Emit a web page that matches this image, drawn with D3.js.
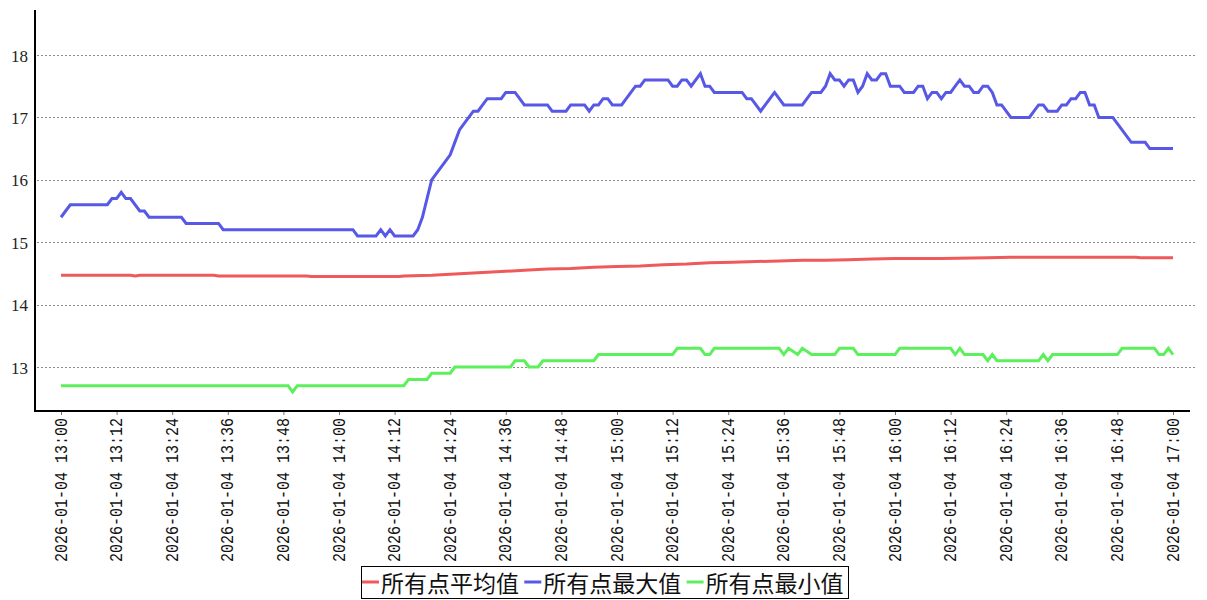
<!DOCTYPE html>
<html>
<head>
<meta charset="utf-8">
<script src="https://cdn.jsdelivr.net/npm/d3@7"></script>
<style>
  html, body { margin: 0; padding: 0; background: #fff; }
  svg { display: block; }
</style>
</head>
<body>
<svg id="chart" width="1207" height="600"></svg>
<script>
// ---------------- DATA ----------------
const dateLabel = "2026-01-04";
const startClock = "13:00";
const endClock = "17:00";
const xTickLabels = ["13:00","13:12","13:24","13:36","13:48","14:00","14:12","14:24","14:36","14:48",
  "15:00","15:12","15:24","15:36","15:48","16:00","16:12","16:24","16:36","16:48","17:00"];
const yTickValues = [13, 14, 15, 16, 17, 18];
const seriesNames = ["所有点平均值", "所有点最大值", "所有点最小值"];

// [minutes after 13:00, value]
const avgValues = [
  [0,14.47],[15,14.47],[16,14.46],[17,14.47],[33,14.47],[34,14.46],[53,14.46],[54,14.45],[73,14.45],
  [74,14.46],[80,14.47],[85,14.49],[90,14.51],[95,14.53],[100,14.55],[105,14.57],[110,14.58],
  [115,14.60],[120,14.61],[125,14.62],[130,14.64],[135,14.65],[140,14.67],[145,14.68],[150,14.69],
  [155,14.70],[160,14.71],[165,14.71],[170,14.72],[175,14.73],[180,14.74],[190,14.74],[200,14.75],
  [205,14.76],[232,14.76],[233,14.75],[240,14.75]
];
const maxValues = [
  [0,15.4],[1,15.5],[2,15.6],[10,15.6],[11,15.7],[12,15.7],[13,15.8],[14,15.7],[15,15.7],[17,15.5],
  [18,15.5],[19,15.4],[26,15.4],[27,15.3],[34,15.3],[35,15.2],[63,15.2],[64,15.1],[68,15.1],[69,15.2],
  [70,15.1],[71,15.2],[72,15.1],[76,15.1],[77,15.2],[78,15.4],[79,15.7],[80,16.0],[81,16.1],[82,16.2],
  [83,16.3],[84,16.4],[85,16.6],[86,16.8],[87,16.9],[88,17.0],[89,17.1],[90,17.1],[91,17.2],[92,17.3],
  [95,17.3],[96,17.4],[98,17.4],[99,17.3],[100,17.2],[105,17.2],[106,17.1],[109,17.1],[110,17.2],
  [113,17.2],[114,17.1],[115,17.2],[116,17.2],[117,17.3],[118,17.3],[119,17.2],[121,17.2],[122,17.3],
  [123,17.4],[124,17.5],[125,17.5],[126,17.6],[131,17.6],[132,17.5],[133,17.5],[134,17.6],[135,17.6],
  [136,17.5],[138,17.7],[139,17.5],[140,17.5],[141,17.4],[147,17.4],[148,17.3],[149,17.3],[150,17.2],
  [151,17.1],[152,17.2],[153,17.3],[154,17.4],[155,17.3],[156,17.2],[160,17.2],[161,17.3],[162,17.4],
  [164,17.4],[165,17.5],[166,17.7],[167,17.6],[168,17.6],[169,17.5],[170,17.6],[171,17.6],[172,17.4],
  [173,17.5],[174,17.7],[175,17.6],[176,17.6],[177,17.7],[178,17.7],[179,17.5],[181,17.5],[182,17.4],
  [184,17.4],[185,17.5],[186,17.5],[187,17.3],[188,17.4],[189,17.4],[190,17.3],[191,17.4],[192,17.4],
  [193,17.5],[194,17.6],[195,17.5],[196,17.5],[197,17.4],[198,17.4],[199,17.5],[200,17.5],[201,17.4],
  [202,17.2],[203,17.2],[204,17.1],[205,17.0],[209,17.0],[210,17.1],[211,17.2],[212,17.2],[213,17.1],
  [215,17.1],[216,17.2],[217,17.2],[218,17.3],[219,17.3],[220,17.4],[221,17.4],[222,17.2],[223,17.2],
  [224,17.0],[227,17.0],[228,16.9],[229,16.8],[230,16.7],[231,16.6],[234,16.6],[235,16.5],[240,16.5]
];
const minValues = [
  [0,12.7],[49,12.7],[50,12.6],[51,12.7],[74,12.7],[75,12.8],[79,12.8],[80,12.9],[84,12.9],[85,13.0],
  [97,13.0],[98,13.1],[100,13.1],[101,13.0],[103,13.0],[104,13.1],[115,13.1],[116,13.2],[132,13.2],
  [133,13.3],[138,13.3],[139,13.2],[140,13.2],[141,13.3],[155,13.3],[156,13.2],[157,13.3],[159,13.2],
  [160,13.3],[162,13.2],[167,13.2],[168,13.3],[171,13.3],[172,13.2],[180,13.2],[181,13.3],[192,13.3],
  [193,13.2],[194,13.3],[195,13.2],[199,13.2],[200,13.1],[201,13.2],[202,13.1],[211,13.1],[212,13.2],
  [213,13.1],[214,13.2],[228,13.2],[229,13.3],[236,13.3],[237,13.2],[238,13.2],[239,13.3],[240,13.2]
];
const seriesColors = ["#ee5a5a", "#5858e6", "#5cf05c"];

// ---------------- CHART ----------------
const svg = d3.select("#chart");
const parseClock = c => { const [h, m] = c.split(":").map(Number); return new Date(2026, 0, 4, h, m); };
const t0 = parseClock(startClock), t1 = parseClock(endClock);
const toTime = mins => new Date(t0.getTime() + mins * 60000);

const x = d3.scaleTime().domain([t0, t1]).range([61, 1173]);
const y = d3.scaleLinear().domain([13, 18]).range([367, 55]);

const plotLeft = 37, plotRight = 1195, plotTop = 10;

// gridlines
svg.append("g").selectAll("line").data(yTickValues).join("line")
  .attr("x1", plotLeft).attr("x2", plotRight)
  .attr("y1", d => Math.round(y(d)) + 0.5).attr("y2", d => Math.round(y(d)) + 0.5)
  .attr("stroke", "#8c8c8c").attr("stroke-width", 1).attr("stroke-dasharray", "2,2");

// y axis
const yAxis = d3.axisLeft(y).tickValues(yTickValues).tickSize(0).tickPadding(7).tickFormat(d3.format("d"));
const gy = svg.append("g").attr("transform", "translate(35,0)").call(yAxis);
gy.select(".domain").remove();
gy.selectAll("text").attr("font-family", "'Liberation Serif', serif").attr("font-size", 17)
  .attr("fill", "#222").attr("dy", "0.36em");
svg.append("line").attr("x1", 35).attr("x2", 35).attr("y1", plotTop).attr("y2", 412)
  .attr("stroke", "#000").attr("stroke-width", 2);

// x axis
const xTicks = xTickLabels.map(parseClock);
const fmt = d3.timeFormat("%Y-%m-%d %H:%M");
const xAxis = d3.axisBottom(x).tickValues(xTicks).tickSize(4).tickPadding(4).tickFormat(fmt);
const gx = svg.append("g").attr("transform", "translate(0,411)").call(xAxis);
gx.select(".domain").remove();
gx.selectAll(".tick line").attr("stroke", "#777");
gx.selectAll("text")
  .attr("font-family", "'Liberation Mono', monospace").attr("font-size", 15).attr("fill", "#111")
  .attr("text-anchor", "end").attr("dominant-baseline", "central")
  .attr("transform", "rotate(-90) scale(1,1.28)").attr("x", -7).attr("y", 0).attr("dy", null);
svg.append("line").attr("x1", 34).attr("x2", 1190).attr("y1", 411).attr("y2", 411)
  .attr("stroke", "#000").attr("stroke-width", 2);

// lines
const line = d3.line().x(d => x(toTime(d[0]))).y(d => y(d[1]));
[avgValues, maxValues, minValues].forEach((s, i) => {
  svg.append("path").datum(s).attr("d", line).attr("fill", "none")
    .attr("stroke", seriesColors[i]).attr("stroke-width", 3).attr("stroke-linejoin", "miter");
});

// legend
const lg = svg.append("g");
lg.append("rect").attr("x", 361.5).attr("y", 566.5).attr("width", 487).attr("height", 32)
  .attr("fill", "#fff").attr("stroke", "#000").attr("stroke-width", 1);
seriesNames.forEach((name, i) => {
  const sx = 362 + i * 162.3;
  lg.append("line").attr("x1", sx).attr("x2", sx + 17).attr("y1", 582).attr("y2", 582)
    .attr("stroke", seriesColors[i]).attr("stroke-width", 3);
  lg.append("text").attr("x", sx + 19).attr("y", 582).attr("dominant-baseline", "central")
    .attr("font-family", "'Noto Sans CJK SC', sans-serif").attr("font-size", 23).attr("fill", "#111")
    .text(name);
});
</script>
</body>
</html>
